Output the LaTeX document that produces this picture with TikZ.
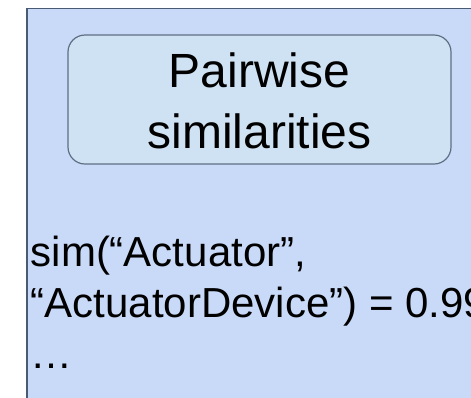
\documentclass[tikz,border=0pt]{standalone}
\usepackage{fontspec}
\setmainfont{Liberation Sans}
\definecolor{panelfill}{HTML}{C9DAF8}
\definecolor{panelline}{HTML}{4A5A72}
\definecolor{boxfill}{HTML}{CFE2F3}
\definecolor{boxline}{HTML}{5E6E83}
\tikzset{
  panel/.style={fill=panelfill, draw=panelline, line width=1.6pt},
  titlebox/.style={rectangle, rounded corners=17pt, fill=boxfill, draw=boxline,
    line width=1.2pt, minimum width=383pt, minimum height=129pt, inner sep=0pt},
  titletext/.style={anchor=base, inner sep=0pt, text=black,
    font=\fontsize{48}{58}\selectfont},
  bodytext/.style={anchor=base west, inner sep=0pt, text=black,
    font=\fontsize{42}{50}\selectfont},
}
\begin{document}
\begin{tikzpicture}[x=1pt, y=-1pt]
  \useasboundingbox (0,0) rectangle (471,397);
  \clip (0,0) rectangle (471,397);
  \fill[white] (0,0) rectangle (471,397);
  % panel running off the right and bottom edges
  \draw[panel] (27,8.5) rectangle (490,420);
  % heading box
  \node[titlebox] (box) at (259.5,99.5) {};
  \node[titletext] (t1) at (259.5,87) {Pairwise};
  \node[titletext] (t2) at (259.5,148) {similarities};
  % similarity listing
  \node[bodytext] (l1) at (30.5,266) {sim(“Actuator”,};
  \node[bodytext] (l2) at (30.5,317) {“ActuatorDevice”) = 0.99};
  \node[bodytext] (l3) at (30.5,368) {…};
\end{tikzpicture}
\end{document}
